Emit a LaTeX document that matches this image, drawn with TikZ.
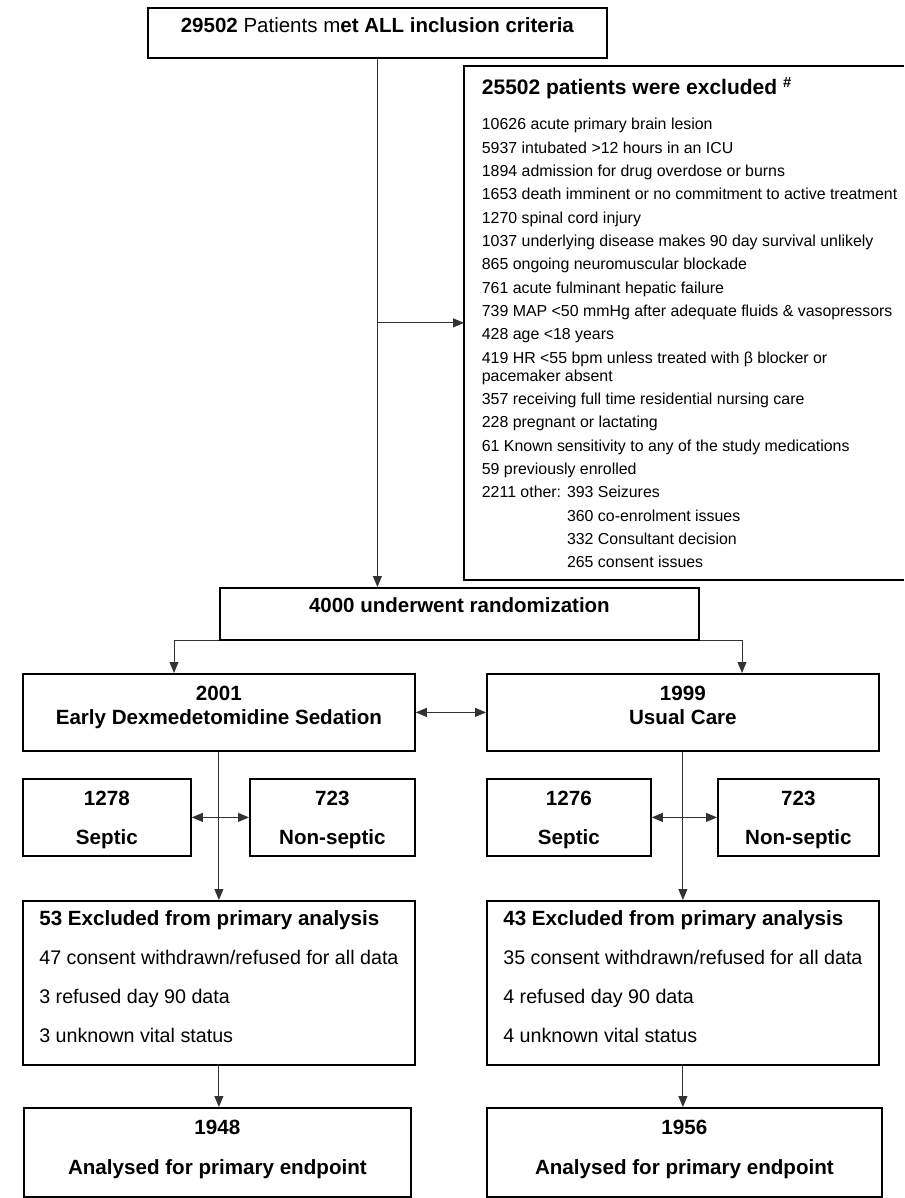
\documentclass[tikz,border=0pt]{standalone}
\usepackage{fontspec}
\setmainfont{Liberation Sans}
\usetikzlibrary{arrows.meta}
\newcommand\padtext[3]{\rule{0pt}{#1pt}#3\rule[-#2pt]{0pt}{#2pt}}

\begin{document}
\begin{tikzpicture}[x=1pt,y=-1pt,
    box/.style={draw=black,line width=1.8pt,anchor=north west,align=center,
      font=\fontsize{20.6}{24}\selectfont\bfseries},
    listbox/.style={box,align=left,inner xsep=15pt,
      font=\fontsize{19.7}{39}\selectfont},
    link/.style={draw=black!80,line width=1pt},
    arr/.style={link,-{Triangle[length=11pt,width=9pt]}},
    dbl/.style={link,{Triangle[length=11pt,width=9pt]}-{Triangle[length=11pt,width=9pt]}}]
    \tikzstyle{every node}+=[inner sep=0pt]
    \useasboundingbox (0,0) rectangle (904,1198);
    \coordinate (rim) at (904,0);
    \node [box,minimum width=459pt,font=\fontsize{20.5}{24}\selectfont] (incl) at (147,7)
      {\padtext{25}{25}{\textbf{29502} Patients m\textbf{et ALL inclusion criteria}}};
    \node [box,draw=none,align=left,inner xsep=17pt,font=\fontsize{15.9}{18}\selectfont] (excl) at (464,66)
      {\padtext{28}{11}{{\fontsize{21}{24}\selectfont\bfseries 25502 patients were excluded \textsuperscript{\#}}\\[17pt]
      10626 acute primary brain lesion\\[5.33pt]
      5937 intubated >12 hours in an ICU\\[5.33pt]
      1894 admission for drug overdose or burns\\[5.33pt]
      1653 death imminent or no commitment to active treatment\\[5.33pt]
      1270 spinal cord injury\\[5.33pt]
      1037 underlying disease makes 90 day survival unlikely\\[5.33pt]
      865 ongoing neuromuscular blockade\\[5.33pt]
      761 acute fulminant hepatic failure\\[5.33pt]
      739 MAP <50 mmHg after adequate fluids \& vasopressors\\[5.33pt]
      428 age <18 years\\[5.33pt]
      419 HR <55 bpm unless treated with β blocker or\\
      pacemaker absent\\[5.33pt]
      357 receiving full time residential nursing care\\[5.33pt]
      228 pregnant or lactating\\[5.33pt]
      61 Known sensitivity to any of the study medications\\[5.33pt]
      59 previously enrolled\\[5.33pt]
      2211 other: 393 Seizures\\[5.33pt]
      \phantom{2211 other: }360 co-enrolment issues\\[5.33pt]
      \phantom{2211 other: }332 Consultant decision\\[5.33pt]
      \phantom{2211 other: }265 consent issues}};
    \draw [black,line width=1.8pt] (excl.north west -| rim) -- (excl.north west) -- (excl.south west) -- (excl.south west -| rim);
    \node [box,minimum width=479pt,font=\fontsize{20.5}{24}\selectfont\bfseries] (rand) at (219,587)
      {\padtext{25}{27}{4000 underwent randomization}};
    \node [box,minimum width=392pt] (early) at (22,673)
      {\padtext{27}{26}{2001\\Early Dexmedetomidine Sedation}};
    \node [box,minimum width=392pt] (usual) at (486,673)
      {\padtext{27}{26}{1999\\Usual Care}};
    \node [box,minimum width=168pt] (sep1) at (22,778) {\padtext{27}{11}{1278\\[15pt]Septic}};
    \node [box,minimum width=165pt] (nons1) at (249,778) {\padtext{27}{11}{723\\[15pt]Non-septic}};
    \node [box,minimum width=164pt] (sep2) at (486,778) {\padtext{27}{11}{1276\\[15pt]Septic}};
    \node [box,minimum width=161pt] (nons2) at (717,778) {\padtext{27}{11}{723\\[15pt]Non-septic}};
    \node [listbox,minimum width=392pt] (drop1) at (22,900)
      {\padtext{25}{22}{{\fontsize{20.6}{24}\selectfont\bfseries 53 Excluded from primary analysis}\\
      47 consent withdrawn/refused for all data\\
      3 refused day 90 data\\
      3 unknown vital status}};
    \node [listbox,minimum width=392pt] (drop2) at (486,900)
      {\padtext{25}{22}{{\fontsize{20.6}{24}\selectfont\bfseries 43 Excluded from primary analysis}\\
      35 consent withdrawn/refused for all data\\
      4 refused day 90 data\\
      4 unknown vital status}};
    \node [box,minimum width=387pt] (ana1) at (23,1107)
      {\padtext{27}{22}{1948\\[16pt]Analysed for primary endpoint}};
    \node [box,minimum width=395pt] (ana2) at (486,1107)
      {\padtext{27}{22}{1956\\[16pt]Analysed for primary endpoint}};
    \coordinate (earlyin) at (174,673);
    \coordinate (usualin) at (742,673);
    \draw [arr] (incl.south) -- (incl.south |- rand.north);
    \draw [arr] (incl.south |- excl.west) -- (excl.west);
    \draw [arr] (rand.south west) -| (earlyin);
    \draw [arr] (rand.south east) -| (usualin);
    \draw [dbl] (early.east) -- (usual.west);
    \draw [arr] (early.south) -- (drop1.north);
    \draw [arr] (usual.south) -- (drop2.north);
    \draw [dbl] (sep1.east) -- (nons1.west);
    \draw [dbl] (sep2.east) -- (nons2.west);
    \draw [arr] (drop1.south) -- (drop1.south |- ana1.north);
    \draw [arr] (drop2.south) -- (drop2.south |- ana2.north);
\end{tikzpicture}
\end{document}
